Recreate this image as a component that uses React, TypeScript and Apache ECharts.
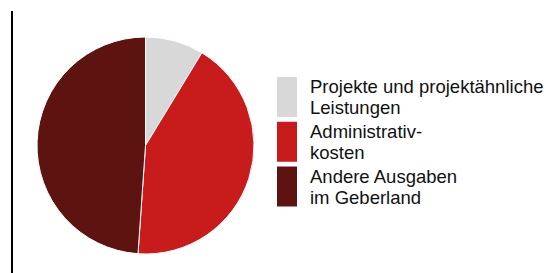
import React, { useEffect, useRef } from "react";
import * as echarts from "echarts";

const categories = [
  "Projekte und projektähnliche\nLeistungen",
  "Administrativ-\nkosten",
  "Andere Ausgaben\nim Geberland",
];
const values = [8.7, 42.4, 48.9];
const colors = ["#d8d8d8", "#c81b1b", "#5d1410"];

export default function App() {
  const ref = useRef<HTMLDivElement>(null);
  useEffect(() => {
    if (!ref.current) return;
    const chart = echarts.init(ref.current, undefined, { renderer: "svg" });
    chart.setOption({
      animation: false,
      backgroundColor: "#ffffff",
      textStyle: { fontFamily: "Liberation Sans, Arial, sans-serif" },
      graphic: [
        {
          type: "line",
          shape: { x1: 12, y1: 11, x2: 12, y2: 273 },
          style: { stroke: "#000000", lineWidth: 2 },
        },
      ],
      legend: {
        orient: "vertical",
        left: 275,
        top: 75,
        itemWidth: 22,
        itemHeight: 42,
        itemGap: 0.8,
        icon: "rect",
        selectedMode: false,
        padding: 0,
        textStyle: {
          fontSize: 18.5,
          lineHeight: 21,
          color: "#111111",
          padding: [0, 0, 0, 7],
          fontFamily: "Liberation Sans, Arial, sans-serif",
        },
        data: categories,
      },
      series: [
        {
          type: "pie",
          center: [145.5, 145.5],
          radius: 108.5,
          startAngle: 90,
          clockwise: true,
          label: { show: false },
          labelLine: { show: false },
          emphasis: { disabled: true },
          itemStyle: { borderColor: "#ffffff", borderWidth: 1 },
          data: categories.map((name, i) => ({
            name,
            value: values[i],
            itemStyle: { color: colors[i] },
          })),
        },
      ],
    });
    return () => chart.dispose();
  }, []);
  return (
    <div
      ref={ref}
      style={{ position: "fixed", left: 0, top: 0, width: 546, height: 273 }}
    />
  );
}
